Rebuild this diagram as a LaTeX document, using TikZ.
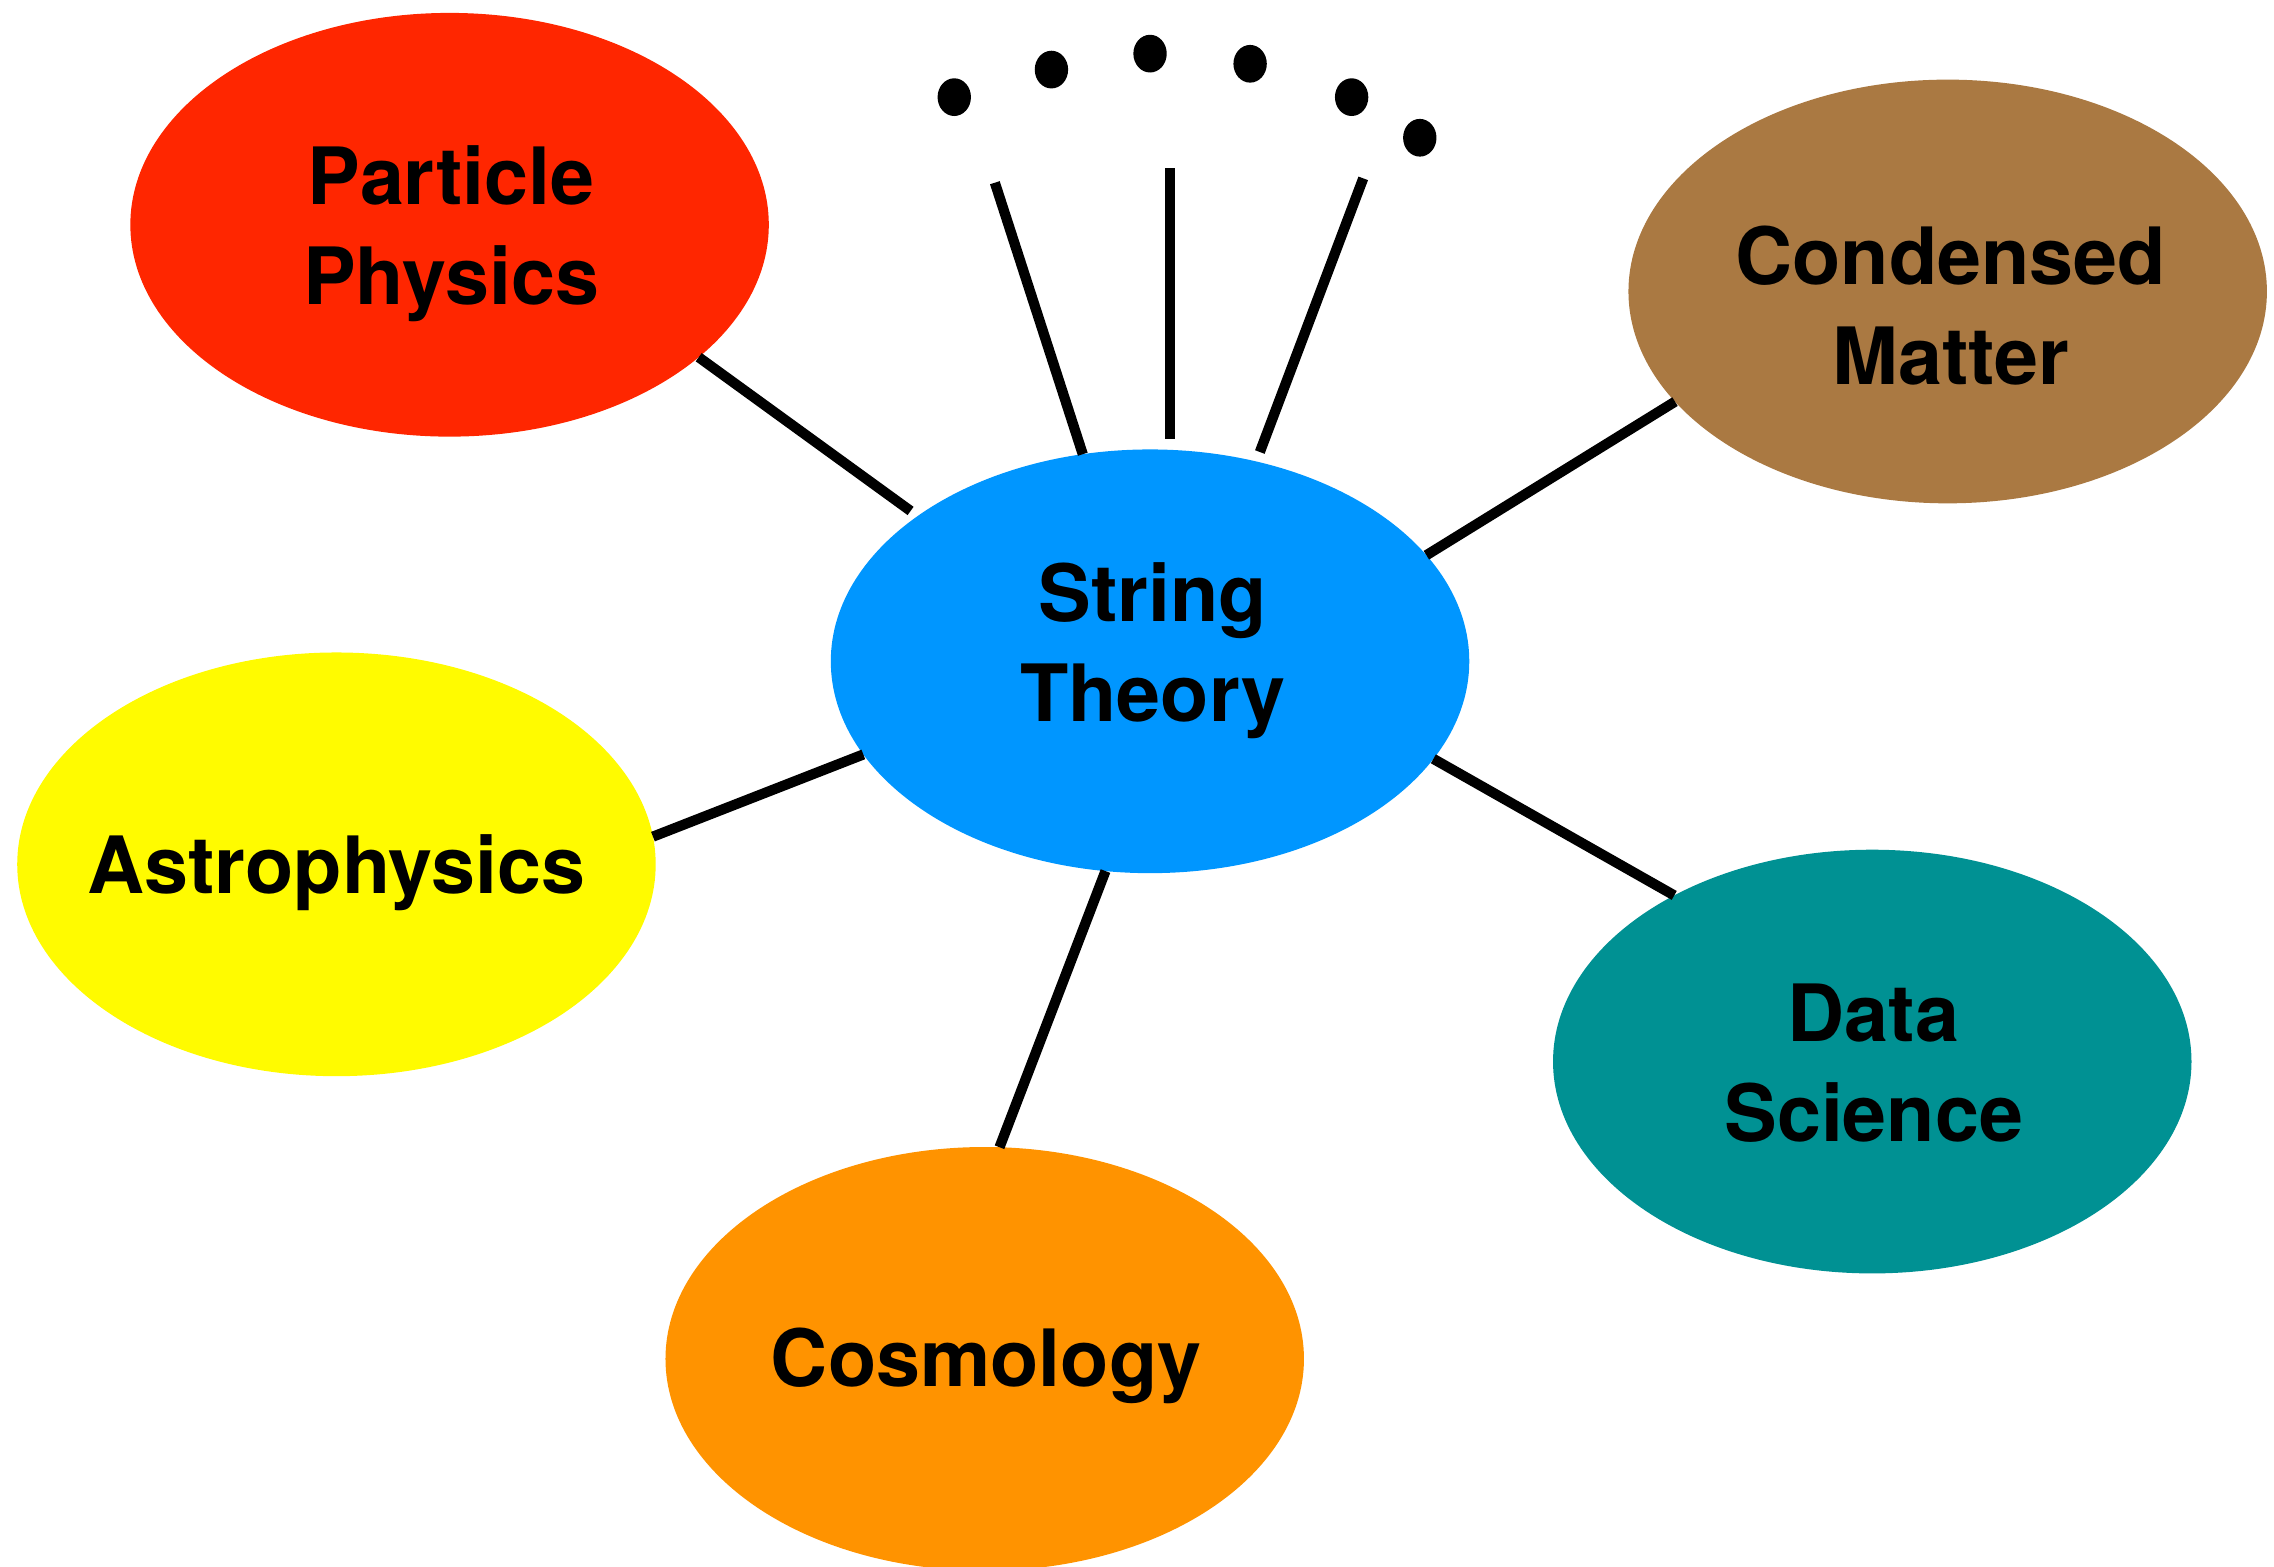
\documentclass[tikz,border=0pt]{standalone}
\usepackage{fontspec}
\setmainfont{TeX Gyre Heros}
\usetikzlibrary{shapes.geometric}
\definecolor{cred}{HTML}{FF2600}
\definecolor{cbrown}{HTML}{AA7942}
\definecolor{cblue}{HTML}{0096FF}
\definecolor{cyellow}{HTML}{FFFB00}
\definecolor{cteal}{HTML}{009193}
\definecolor{corange}{HTML}{FF9300}
\begin{document}
\begin{tikzpicture}[x=0.01cm,y=-0.01cm,
  bubble/.style={ellipse, minimum width=4.40cm, minimum height=2.92cm, inner sep=0pt, outer sep=0pt},
  lbl/.style={font=\fontsize{15.5}{19.6}\selectfont\bfseries, align=center, inner sep=0pt},
  link/.style={line width=2pt, black},
  dotmark/.style={ellipse, fill=black, minimum width=0.23cm, minimum height=0.26cm, inner sep=0pt}]
\useasboundingbox (0,0) rectangle (1568,1080);
\clip (0,0) rectangle (1568,1080);
% bubbles
\node[bubble, fill=cred]    (pp) at (310,155) {};
\node[bubble, fill=cbrown]  (cm) at (1343,201) {};
\node[bubble, fill=cblue]   (st) at (793,456) {};
\node[bubble, fill=cyellow] (as) at (232,596) {};
\node[bubble, fill=cteal]   (ds) at (1291,732) {};
\node[bubble, fill=corange] (co) at (679,937) {};
% labels
\node[lbl] (ppt) at (311,161) {Particle\\Physics};
\node[lbl] (cmt) at (1345,211) {Condensed\\Matter};
\node[lbl] (stt) at (795,449) {String\\Theory};
\node[lbl] (ast) at (232,602) {Astrophysics};
\node[lbl] (dst) at (1292,733) {Data\\Science};
\node[lbl] (cot) at (680,942) {Cosmology};
% free ends
\coordinate (f1) at (686,126);
\coordinate (f2) at (807,116);
\coordinate (f3) at (940,123);
% connectors
\draw[link, shorten >=0.06cm] (pp.-28.9) -- (st.148.4);
\draw[link] (f1) -- (st.108);
\draw[link, shorten >=0.07cm] (f2) -- (f2 |- st.north);
\draw[link, shorten >=0.07cm] (f3) -- (st.62.6);
\draw[link] (st.21.8) -- (cm.-158);
\draw[link] (as.5.7) -- (st.-162.6);
\draw[link] (st.-19.1) -- (ds.140.2);
\draw[link] (st.-102.1) -- (co.86.6);
% dots
\node[dotmark] (d1) at (658,67) {};
\node[dotmark] (d2) at (725,48) {};
\node[dotmark] (d3) at (793,37) {};
\node[dotmark] (d4) at (862,44) {};
\node[dotmark] (d5) at (932,67) {};
\node[dotmark] (d6) at (979,95) {};
\end{tikzpicture}
\end{document}
